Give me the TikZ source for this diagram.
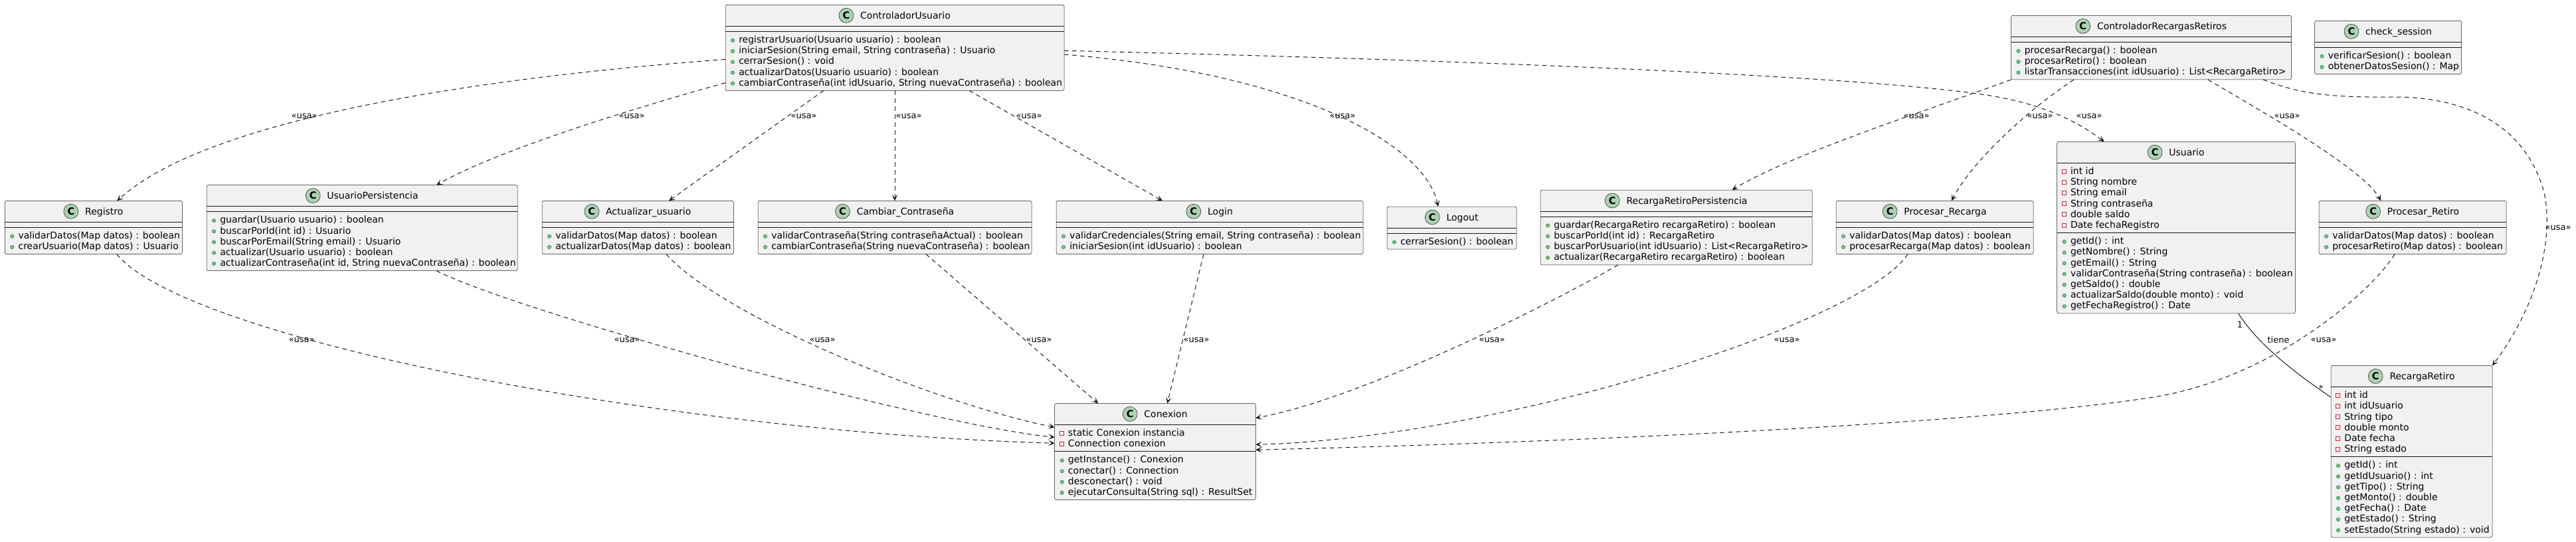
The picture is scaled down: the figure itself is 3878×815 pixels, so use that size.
\documentclass[tikz,border=0pt]{standalone}
\usepackage{fontspec}
\setmainfont{DejaVu Sans}
\usetikzlibrary{calc,arrows.meta}

\definecolor{boxfill}{HTML}{F1F1F1}
\definecolor{boxline}{HTML}{181818}
\definecolor{edgeline}{HTML}{181818}
\definecolor{spotfill}{HTML}{ADD1B2}
\definecolor{pubfill}{HTML}{84BE84}
\definecolor{publine}{HTML}{038048}
\definecolor{privline}{HTML}{C82930}

\tikzstyle{classbox}=[draw=boxline, line width=0.375pt, fill=boxfill, rounded corners=2pt, anchor=north west, inner sep=0pt, outer sep=0pt]
\tikzstyle{classname}=[anchor=base, inner sep=0pt, font=\fontsize{10.5}{12}\selectfont]
\tikzstyle{spot}=[circle, draw=boxline, line width=0.375pt, fill=spotfill, minimum size=16.5pt, inner sep=0pt, font=\fontsize{11}{11}\selectfont\bfseries]
\tikzstyle{member}=[anchor=base west, inner sep=0pt, font=\fontsize{10.5}{12}\selectfont]
\tikzstyle{sep}=[draw=boxline, line width=0.375pt]
\tikzstyle{pub}=[draw=publine, fill=pubfill, line width=0.375pt]
\tikzstyle{priv}=[draw=privline, line width=0.5pt]
\tikzstyle{usa}=[draw=edgeline, line width=0.75pt, dash pattern=on 5pt off 4pt, -{Stealth[length=7pt,width=6.5pt,inset=3.5pt]}]
\tikzstyle{assoc}=[draw=edgeline, line width=0.75pt]
\tikzstyle{lbl}=[inner sep=0pt, font=\fontsize{9.75}{11}\selectfont]

% class: name, x, y, width, title, no. attributes, attributes, no. methods, methods
\newcommand{\umlclass}[9]{%
  \pgfmathsetmacro{\clsha}{16.2*#6+8}%
  \pgfmathsetmacro{\clshm}{16.2*#8+8}%
  \node[classbox, minimum width={#4*0.75pt}, minimum height={(32+\clsha+\clshm)*0.75pt}] (#1) at (#2,#3) {};
  \node[classname] (#1-t) at ($(#1.north)+(16,21)$) {#5};
  \node[spot] (#1-c) at ($(#1-t.base west)+(-21,-5)$) {C};
  \draw[sep] ($(#1.north west)+(0,32)$) -- ($(#1.north east)+(0,32)$);
  \draw[sep] ($(#1.north west)+(0,32+\clsha)$) -- ($(#1.north east)+(0,32+\clsha)$);
  \ifnum#6>0
  \foreach \mline [count=\i] in {#7} {
    \pgfmathsetmacro{\clsyb}{49.2+16.2*(\i-1)}
    \draw[priv] ($(#1.north west)+(7.6,\clsyb-7.5)$) rectangle ++(6,6);
    \node[member] (#1-a\i) at ($(#1.north west)+(20,\clsyb)$) {\mline};
  }
  \fi
  \foreach \mline [count=\i] in {#9} {
    \pgfmathsetmacro{\clsyb}{49.2+\clsha+16.2*(\i-1)}
    \draw[pub] ($(#1.north west)+(11,\clsyb-3.7)$) circle (2pt);
    \node[member] (#1-m\i) at ($(#1.north west)+(20,\clsyb)$) {\mline};
  }
}

\begin{document}
\begin{tikzpicture}[x=0.75pt, y=-0.75pt]
  \useasboundingbox (0,0) rectangle (3878,815);

  % controllers
  \umlclass{cu}{1092}{7.3}{510}{ControladorUsuario}{0}{}{5}{{registrarUsuario(Usuario usuario) : boolean},{iniciarSesion(String email, String contraseña) : Usuario},{cerrarSesion() : void},{actualizarDatos(Usuario usuario) : boolean},{cambiarContraseña(int idUsuario, String nuevaContraseña) : boolean}}
  \umlclass{crr}{3027.5}{23.3}{422}{ControladorRecargasRetiros}{0}{}{3}{{procesarRecarga() : boolean},{procesarRetiro() : boolean},{listarTransacciones(int idUsuario) : List<RecargaRetiro>}}
  \umlclass{checks}{3484.6}{31.3}{221}{check\_session}{0}{}{2}{{verificarSesion() : boolean},{obtenerDatosSesion() : Map}}

  % middle row
  \umlclass{reg}{7.3}{302.3}{267}{Registro}{0}{}{2}{{validarDatos(Map datos) : boolean},{crearUsuario(Map datos) : Usuario}}
  \umlclass{upers}{311}{278.6}{468}{UsuarioPersistencia}{0}{}{5}{{guardar(Usuario usuario) : boolean},{buscarPorId(int id) : Usuario},{buscarPorEmail(String email) : Usuario},{actualizar(Usuario usuario) : boolean},{actualizarContraseña(int id, String nuevaContraseña) : boolean}}
  \umlclass{actu}{816}{302.3}{288.5}{Actualizar\_usuario}{0}{}{2}{{validarDatos(Map datos) : boolean},{actualizarDatos(Map datos) : boolean}}
  \umlclass{camb}{1141}{302.3}{412}{Cambiar\_Contraseña}{0}{}{2}{{validarContraseña(String contraseñaActual) : boolean},{cambiarContraseña(String nuevaContraseña) : boolean}}
  \umlclass{login}{1590}{302.3}{462}{Login}{0}{}{2}{{validarCredenciales(String email, String contraseña) : boolean},{iniciarSesion(int idUsuario) : boolean}}
  \umlclass{logout}{2088}{311}{195}{Logout}{0}{}{1}{{cerrarSesion() : boolean}}
  \umlclass{rrpers}{2319}{286}{409}{RecargaRetiroPersistencia}{0}{}{4}{{guardar(RecargaRetiro recargaRetiro) : boolean},{buscarPorId(int id) : RecargaRetiro},{buscarPorUsuario(int idUsuario) : List<RecargaRetiro>},{actualizar(RecargaRetiro recargaRetiro) : boolean}}
  \umlclass{precarga}{2764}{302.3}{297}{Procesar\_Recarga}{0}{}{2}{{validarDatos(Map datos) : boolean},{procesarRecarga(Map datos) : boolean}}
  \umlclass{usuario}{3096.7}{213.3}{358.6}{Usuario}{6}{{int id},{String nombre},{String email},{String contraseña},{double saldo},{Date fechaRegistro}}{7}{{getId() : int},{getNombre() : String},{getEmail() : String},{validarContraseña(String contraseña) : boolean},{getSaldo() : double},{actualizarSaldo(double monto) : void},{getFechaRegistro() : Date}}
  \umlclass{pretiro}{3491}{302.3}{282}{Procesar\_Retiro}{0}{}{2}{{validarDatos(Map datos) : boolean},{procesarRetiro(Map datos) : boolean}}

  % bottom row
  \umlclass{conex}{1587.7}{607.3}{302.6}{Conexion}{2}{{static Conexion instancia},{Connection conexion}}{4}{{getInstance() : Conexion},{conectar() : Connection},{desconectar() : void},{ejecutarConsulta(String sql) : ResultSet}}
  \umlclass{rr}{3509}{550.4}{243}{RecargaRetiro}{6}{{int id},{int idUsuario},{String tipo},{double monto},{Date fecha},{String estado}}{7}{{getId() : int},{getIdUsuario() : int},{getTipo() : String},{getMonto() : double},{getFecha() : Date},{getEstado() : String},{setEstado(String estado) : void}}

  % ControladorUsuario uses
  \draw[usa] ($(cu.north west)+(0,82)$) .. controls (592,127) and (286,202) .. ($(reg.north west)+(169,0)$);
  \draw[usa] ($(cu.north west)+(0,117.4)$) .. controls (1000,150) and (760,220) .. ($(upers.north west)+(346,0)$);
  \draw[usa] ($(cu.south west)+(148,0)$) -- ($(actu.north west)+(191,0)$);
  \draw[usa] ($(cu.south west)+(255,0)$) -- ($(camb.north west)+(206,0)$);
  \draw[usa] ($(cu.south west)+(367,0)$) -- ($(login.north west)+(160,0)$);
  \draw[usa] ($(cu.north east)+(0,74.7)$) .. controls (1950,110) and (2145,215) .. ($(logout.north west)+(77,0)$);
  \draw[usa] ($(cu.north east)+(0,69)$) .. controls (2200,90) and (2800,114) .. (2990,143)
    .. controls (3080,157) and (3130,185) .. ($(usuario.north west)+(71,0)$);

  % ControladorRecargasRetiros uses
  \draw[usa] (crr.south west) .. controls (2920,160) and (2700,230) .. ($(rrpers.north west)+(288.5,0)$);
  \draw[usa] ($(crr.south west)+(94.5,0)$) .. controls (3060,160) and (2970,240) .. ($(precarga.north west)+(174,0)$);
  \draw[usa] ($(crr.south west)+(296.5,0)$) .. controls (3400,165) and (3560,255) .. ($(pretiro.north west)+(93,0)$);
  \draw[usa] ($(crr.south west)+(379.5,0)$) .. controls (3460,140) and (3500,147) .. (3600,146)
    .. controls (3700,145) and (3800,180) .. (3830,290)
    .. controls (3845,360) and (3820,460) .. (rr.north east);

  % uses of Conexion
  \draw[usa] ($(reg.south west)+(168.5,0)$) .. controls (280,510) and (1000,650) .. ($(conex.north west)+(0,60)$);
  \draw[usa] ($(upers.south west)+(346,0)$) .. controls (780,470) and (1400,640) .. ($(conex.north west)+(0,51)$);
  \draw[usa] ($(actu.south west)+(187,0)$) .. controls (1090,480) and (1420,610) .. ($(conex.north west)+(0,36)$);
  \draw[usa] ($(camb.south west)+(253,0)$) -- ($(conex.north west)+(65.6,0)$);
  \draw[usa] ($(login.south west)+(222,0)$) -- ($(conex.north west)+(169.6,0)$);
  \draw[usa] ($(rrpers.south west)+(117,0)$) .. controls (2330,460) and (2050,600) .. ($(conex.north east)+(0,22)$);
  \draw[usa] ($(precarga.south west)+(108,0)$) .. controls (2800,490) and (2250,660) .. ($(conex.north east)+(0,62)$);
  \draw[usa] ($(pretiro.south west)+(114,0)$) .. controls (3570,440) and (3420,570) .. (3241,598)
    .. controls (3000,636) and (2400,665) .. ($(conex.north east)+(0,70)$);

  % Usuario tiene RecargaRetiro
  \draw[assoc] ($(usuario.south west)+(273,0)$) .. controls (3400,520) and (3460,565) .. ($(rr.north west)+(0,47.6)$);

  % labels
  \node[lbl] (l1) at (458,175) {«usa»};
  \node[lbl] (l2) at (951,175) {«usa»};
  \node[lbl] (l3) at (1210,175) {«usa»};
  \node[lbl] (l4) at (1368,175) {«usa»};
  \node[lbl] (l5) at (1549,175) {«usa»};
  \node[lbl] (l6) at (2021,175) {«usa»};
  \node[lbl] (l7) at (3145,175) {«usa»};
  \node[lbl] (l8) at (2885,175) {«usa»};
  \node[lbl] (l9) at (3071,175) {«usa»};
  \node[lbl] (l10) at (3443,175) {«usa»};
  \node[lbl] (l11) at (3851,343) {«usa»};
  \node[lbl] (l12) at (454,512) {«usa»};
  \node[lbl] (l13) at (944,512) {«usa»};
  \node[lbl] (l14) at (1238,512) {«usa»};
  \node[lbl] (l15) at (1564,512) {«usa»};
  \node[lbl] (l16) at (1801,512) {«usa»};
  \node[lbl] (l17) at (2246,512) {«usa»};
  \node[lbl] (l18) at (2690,512) {«usa»};
  \node[lbl] (l19) at (3498,512) {«usa»};
  \node[lbl] (one) at (3372,489) {1};
  \node[lbl] (tiene) at (3430,512) {tiene};
  \node[lbl] (many) at (3494,585) {*};
\end{tikzpicture}
\end{document}
